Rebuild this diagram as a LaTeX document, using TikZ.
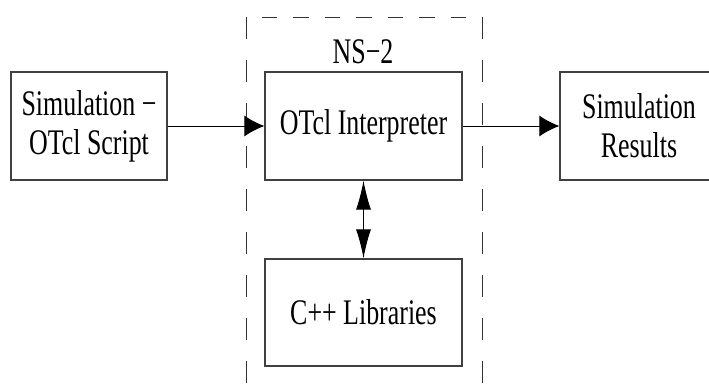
\documentclass[tikz,border=0pt]{standalone}
\usepackage{fontspec}
\setmainfont{Liberation Serif}
\usetikzlibrary{arrows.meta}
\newcommand{\nrw}[1]{\scalebox{0.72}[1]{#1}}
\begin{document}
\begin{tikzpicture}[x=1pt,y=-1pt,
  blk/.style={draw=black!75, line width=1.2pt, inner sep=0pt, font=\fontsize{36}{39}\selectfont, align=center},
  conn/.style={draw=black, line width=1pt},
  hhead/.style={-{Latex[length=20pt,width=21pt]}},
  vhead/.style={{Latex[length=29pt,width=15pt]}-{Latex[length=29pt,width=15pt]}},
  nsvert/.style={draw=black!80, line width=1pt, dash pattern=on 22pt off 21pt},
  nstop/.style={draw=black!80, line width=1pt, dash pattern=on 15.5pt off 16pt, dash phase=15.8pt},
  lbl/.style={font=\fontsize{36}{39}\selectfont, inner sep=0pt}]
\useasboundingbox (0,0) rectangle (709,388);
\fill[white] (0,0) rectangle (709,388);
% NS-2 group boundary
\coordinate (nsTL) at (246,17);
\coordinate (nsTR) at (482,17);
\coordinate (nsBL) at (246,395);
\coordinate (nsBR) at (482,395);
\draw[nsvert] (nsTL) -- (nsBL);
\draw[nsvert] (nsTR) -- (nsBR);
\draw[nstop] (nsTL) -- (nsTR);
\node[lbl, anchor=base] (ns) at (363,63) {\nrw{NS−2}};
% boxes
\node[blk, minimum width=156pt, minimum height=108pt] (src) at (89,126) {\nrw{Simulation −}\\\nrw{OTcl Script}};
\node[blk, minimum width=197pt, minimum height=108pt] (otcl) at (363.5,126) {\nrw{OTcl Interpreter}};
\node[blk, minimum width=158pt, minimum height=108pt] (res) at (639,126) {\nrw{Simulation}\\\nrw{Results}};
\node[blk, minimum width=197pt, minimum height=107pt] (cpp) at (363.5,312.5) {\nrw{C++ Libraries}};
% connectors
\draw[conn, hhead] (src.east) -- (otcl.west);
\draw[conn, hhead] (otcl.east) -- (res.west);
\draw[conn, vhead] (otcl.south) -- (cpp.north);
\end{tikzpicture}
\end{document}
